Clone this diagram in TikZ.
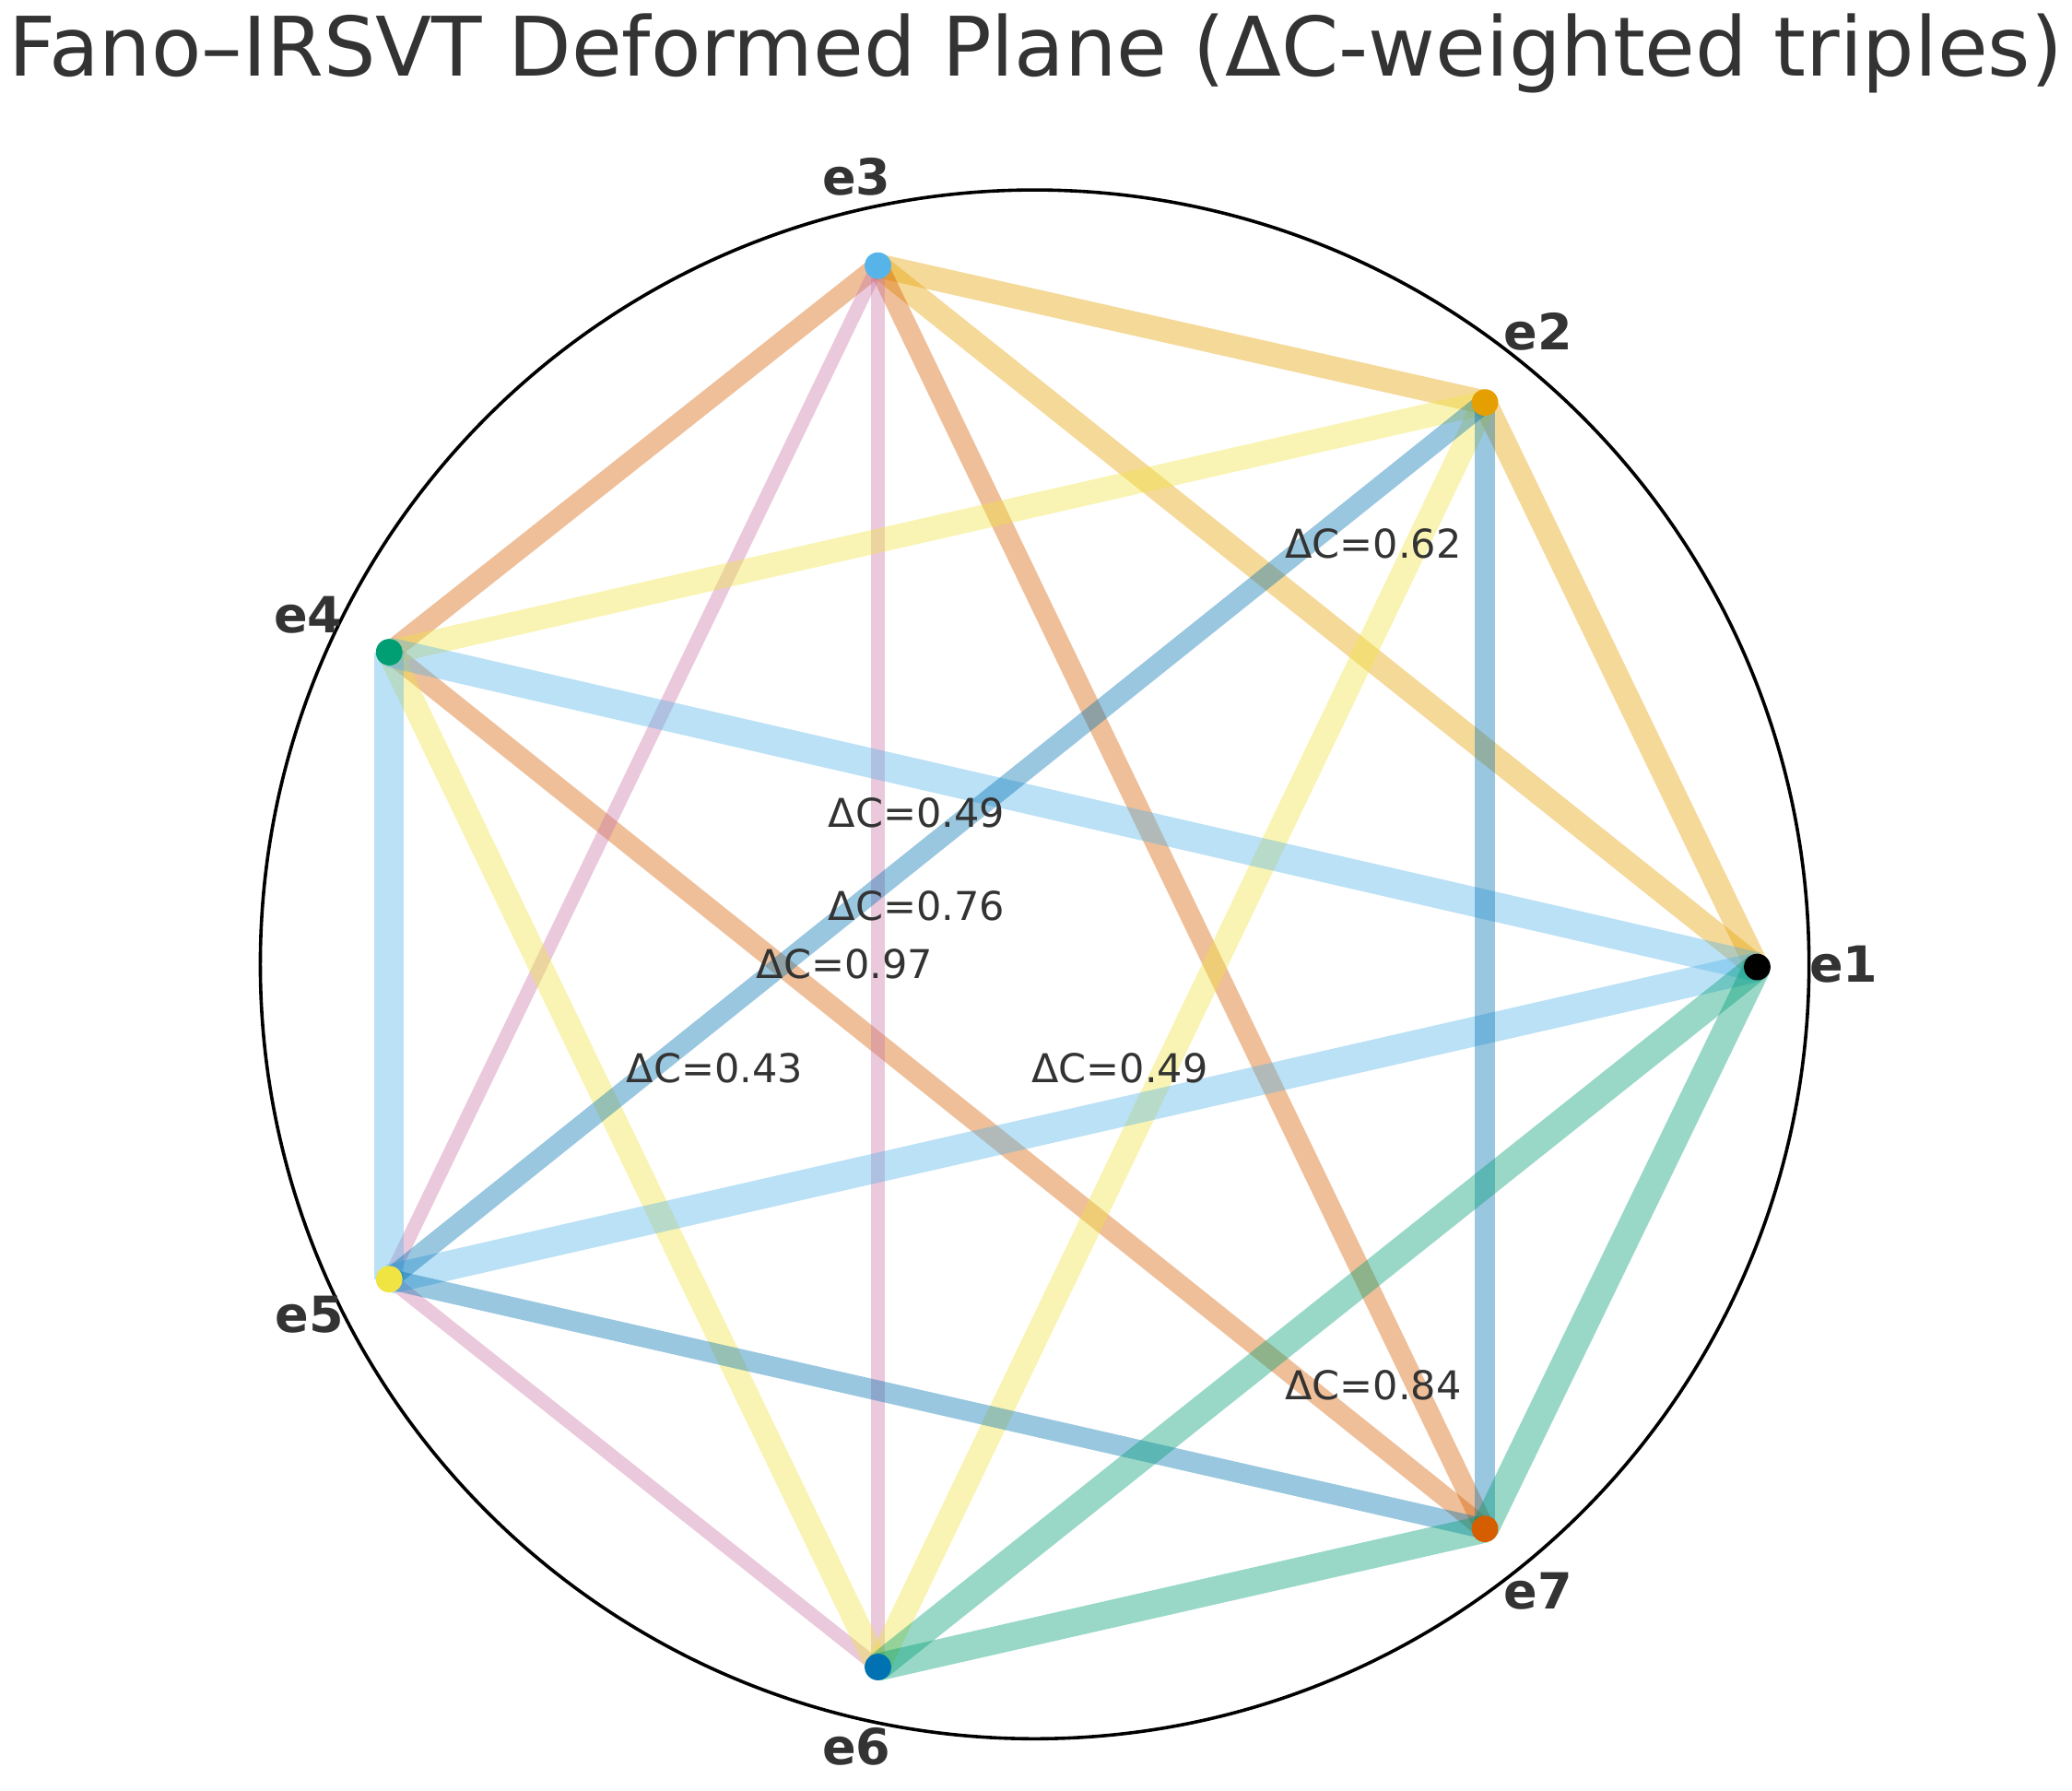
\documentclass[tikz,border=0pt]{standalone}
\usepackage{fontspec}
\setmainfont{DejaVu Sans}
\begin{document}
\begin{tikzpicture}[x=0.72pt,y=-0.72pt,
  edge/.style={line cap=butt,opacity=0.4},
  dot/.style={circle,inner sep=0pt,minimum size=14.4pt},
  vlab/.style={font=\fontsize{27}{27}\selectfont\bfseries,text=black!80},
  dlab/.style={font=\fontsize{21.5}{21.5}\selectfont,text=black!80}]
\useasboundingbox (0,0) rectangle (1560,1348);
\node (title) at (780,40) {\fontsize{44.5}{44.5}\selectfont\color{black!80}Fano–IRSVT Deformed Plane (ΔC-weighted triples)};
\draw[line width=1.8pt] (779,726) circle (583);
\coordinate (p1) at (1323,728);
\coordinate (p2) at (1118,303);
\coordinate (p3) at (661,200);
\coordinate (p4) at (293,491);
\coordinate (p5) at (293,963);
\coordinate (p6) at (661,1255);
\coordinate (p7) at (1118,1151);
\definecolor{cA}{HTML}{E69F00}
\definecolor{cB}{HTML}{D55E00}
\definecolor{cC}{HTML}{CC79A7}
\definecolor{cD}{HTML}{F0E442}
\definecolor{cE}{HTML}{56B4E9}
\definecolor{cF}{HTML}{0072B2}
\definecolor{cG}{HTML}{009E73}
\foreach \a/\b/\c/\w in {p1/p2/cA/13pt,p2/p3/cA/13pt,p3/p1/cA/13pt,
  p3/p4/cB/11pt,p4/p7/cB/11pt,p7/p3/cB/11pt,
  p3/p5/cC/7.5pt,p5/p6/cC/7.5pt,p6/p3/cC/7.5pt,
  p2/p4/cD/13pt,p4/p6/cD/13pt,p6/p2/cD/13pt,
  p1/p4/cE/16pt,p4/p5/cE/16pt,p5/p1/cE/16pt,
  p2/p5/cF/11pt,p5/p7/cF/11pt,p7/p2/cF/11pt,
  p1/p6/cG/15pt,p6/p7/cG/15pt,p7/p1/cG/15pt}
  \draw[edge,\c,line width=\w] (\a)--(\b);
\node[dot,fill=black] (n1) at (p1) {};
\node[dot,fill=cA] (n2) at (p2) {};
\node[dot,fill=cE] (n3) at (p3) {};
\node[dot,fill=cG] (n4) at (p4) {};
\node[dot,fill=cD] (n5) at (p5) {};
\node[dot,fill=cF] (n6) at (p6) {};
\node[dot,fill=cB] (n7) at (p7) {};
\node[vlab] (l1) at (1388,726) {e1};
\node[vlab] (l2) at (1158,250) {e2};
\node[vlab] (l3) at (645,133) {e3};
\node[vlab] (l4) at (232,463) {e4};
\node[vlab] (l5) at (233,990) {e5};
\node[vlab] (l6) at (645,1315) {e6};
\node[vlab] (l7) at (1158,1198) {e7};
\node[dlab] (d1) at (1034,409) {ΔC=0.62};
\node[dlab] (d2) at (690,612) {ΔC=0.49};
\node[dlab] (d3) at (690,682) {ΔC=0.76};
\node[dlab] (d4) at (636,726) {ΔC=0.97};
\node[dlab] (d5) at (538,804) {ΔC=0.43};
\node[dlab] (d6) at (843,804) {ΔC=0.49};
\node[dlab] (d7) at (1034,1043) {ΔC=0.84};
\end{tikzpicture}
\end{document}
